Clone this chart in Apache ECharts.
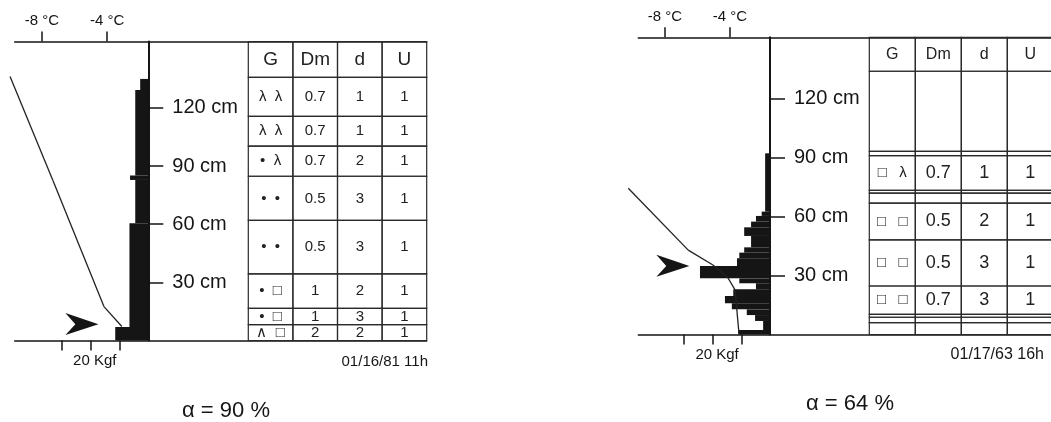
<!DOCTYPE html>
<html>
<head>
    <meta charset="utf-8">
    <title>Snow profiles</title>
    <style>
        html, body { margin: 0; padding: 0; background: #fff; }
        #chart1 { width: 1051px; height: 422px; }
    </style>
</head>
<body>
<div id="chart1"></div>
<script src="https://cdn.jsdelivr.net/npm/echarts@6.0.0/dist/echarts.min.js"></script>
<script>
    // tick values shared by both profiles
    var tempTicks = [-8, -4];
    var kgfTicks = [10, 20, 30];
    var kgfLabels = [20];
    var cmTicks = [30, 60, 90, 120];
    var tableHeader = ['G', 'Dm', 'd', 'U'];

    // left profile, 01/16/81 11h
    var leftTempC = [-9.96, -7.33, -4.2, -3.1];
    var leftTempCm = [136.1, 82.5, 17.5, 7.2];
    var leftRamBottom = [0, 6.9, 60.5, 82.8, 85.1, 129.2];
    var leftRamTop = [6.9, 60.5, 82.8, 85.1, 129.2, 134.9];
    var leftRamKgf = [11.4, 6.5, 4.5, 6.3, 4.5, 2.8];
    var leftArrow = [17.2, 8.5];
    var leftLayers = [135.7, 115.6, 100.2, 84.7, 61.9, 34.4, 16.6, 8.2, 0];
    var leftG = ['λ  λ', 'λ  λ', '•  λ', '•  •', '•  •', '•  □', '•  □', '∧  □'];
    var leftDm = ['0.7', '0.7', '0.7', '0.5', '0.5', '1', '1', '2'];
    var leftD = ['1', '1', '2', '3', '3', '2', '3', '2'];
    var leftU = ['1', '1', '1', '1', '1', '1', '1', '1'];

    // right profile, 01/17/63 16h
    var rightTempC = [-10.26, -6.57, -5.05, -4.12, -3.69, -3.45];
    var rightTempCm = [74.5, 43.0, 35.4, 28.8, 22.7, 0.8];
    var rightRamBottom = [0, 2.3, 6.9, 9.9, 12.8, 15.9, 19.6, 23.0, 26.1, 28.6, 34.9, 38.8, 41.7, 44.4, 50.2, 54.6, 57.5, 60.4, 62.6];
    var rightRamTop = [2.3, 6.9, 9.9, 12.8, 15.9, 19.6, 23.0, 26.1, 28.6, 34.9, 38.8, 41.7, 44.4, 50.2, 54.6, 57.5, 60.4, 62.6, 92.3];
    var rightRamKgf = [11.1, 2.4, 5.2, 8.1, 13.3, 15.7, 12.8, 4.9, 10.7, 24.4, 11.5, 10.7, 9.0, 6.6, 9.0, 6.6, 4.9, 2.9, 1.7];
    var rightArrow = [28.1, 35.0];
    var rightLayers = [134.1, 93.3, 91.1, 73.4, 72.0, 66.9, 48.2, 24.7, 10.3, 8.8, 6.0, 0];
    var rightG = ['', '', '□   λ', '', '', '□   □', '□   □', '□   □', '', '', ''];
    var rightDm = ['', '', '0.7', '', '', '0.5', '0.5', '0.7', '', '', ''];
    var rightD = ['', '', '1', '', '', '2', '3', '3', '', '', ''];
    var rightU = ['', '', '1', '', '', '1', '1', '1', '', '', ''];

    var font = 'Liberation Sans, Arial, sans-serif';
    var ink = '#151515';
    var arrowPath = 'path://M0,0 L100,34 L0,67 L30,34 Z';

    // consecutive temperature points -> segments [t0, cm0, t1, cm1]
    function segments(temp, cm) {
        var out = [];
        for (var i = 0; i + 1 < temp.length; i++) {
            out.push([temp[i], cm[i], temp[i + 1], cm[i + 1]]);
        }
        return out;
    }

    function ramData(bottom, top, kgf) {
        return bottom.map(function (b, i) { return [b, top[i], kgf[i]]; });
    }

    function tableCells(layers, cols, cmMax) {
        var cells = [];
        tableHeader.forEach(function (h, c) {
            cells.push({col: c, bottom: layers[0], top: cmMax, text: h, head: true});
        });
        for (var r = 0; r + 1 < layers.length; r++) {
            cols.forEach(function (col, c) {
                cells.push({col: c, bottom: layers[r + 1], top: layers[r], text: col[r], head: false});
            });
        }
        return cells;
    }

    function renderSegment(params, api) {
        var a = api.coord([api.value(0), api.value(1)]);
        var b = api.coord([api.value(2), api.value(3)]);
        return {
            type: 'line',
            shape: {x1: a[0], y1: a[1], x2: b[0], y2: b[1]},
            style: {stroke: '#222', lineWidth: 1.3}
        };
    }

    function renderRam(params, api) {
        var a = api.coord([0, api.value(1)]);
        var b = api.coord([api.value(2), api.value(0)]);
        return {
            type: 'rect',
            shape: {x: b[0], y: a[1], width: a[0] - b[0], height: b[1] - a[1]},
            style: {fill: ink}
        };
    }

    function renderTable(cells, headSize, bodySize) {
        return function (params, api) {
            var c = cells[params.dataIndex];
            var a = api.coord([api.value(0), api.value(2)]);
            var b = api.coord([api.value(0) + 1, api.value(1)]);
            var size = c.head ? headSize : (c.col === 0 ? 15 : bodySize);
            return {
                type: 'rect',
                shape: {x: a[0], y: a[1], width: b[0] - a[0], height: b[1] - a[1]},
                style: {fill: 'none', stroke: '#2a2a2a', lineWidth: 1.2},
                textContent: {
                    style: {text: c.text, fill: '#222', font: size + 'px ' + font, align: 'center', verticalAlign: 'middle'}
                },
                textConfig: {position: 'inside'}
            };
        };
    }

    function tempAxis(g, min, max) {
        return {
            gridIndex: g, type: 'value', position: 'top', min: min, max: max,
            axisLine: {onZero: false, lineStyle: {color: ink, width: 1.5}},
            axisTick: {customValues: tempTicks, length: 10, lineStyle: {color: ink, width: 1.5}},
            axisLabel: {customValues: tempTicks, formatter: '{value} °C', margin: 13, color: ink, fontSize: 15, fontFamily: font},
            splitLine: {show: false}
        };
    }

    function kgfAxis(g, min, max) {
        return {
            gridIndex: g, type: 'value', position: 'bottom', inverse: true, min: min, max: max,
            axisLine: {onZero: false, lineStyle: {color: ink, width: 1.5}},
            axisTick: {customValues: kgfTicks, length: 10, lineStyle: {color: ink, width: 1.5}},
            axisLabel: {customValues: kgfLabels, formatter: '{value} Kgf', margin: 13, padding: [0, 0, 0, 9], color: ink, fontSize: 15, fontFamily: font},
            splitLine: {show: false}
        };
    }

    // depth axis: its own grid starts at the Kgf zero, ticks and labels point right
    function cmAxis(g, max) {
        return {
            gridIndex: g, type: 'value', position: 'left', min: 0, max: max,
            axisLine: {onZero: false, lineStyle: {color: ink, width: 2}},
            axisTick: {inside: true, customValues: cmTicks, length: 15, lineStyle: {color: ink, width: 1.5}},
            axisLabel: {inside: true, customValues: cmTicks, formatter: '{value} cm', margin: 24, color: ink, fontSize: 20, fontFamily: font},
            splitLine: {show: false}
        };
    }

    function hiddenAxis(g, min, max) {
        return {gridIndex: g, type: 'value', min: min, max: max, show: false};
    }

    var leftMax = 154.2, rightMax = 151.4;
    var leftCells = tableCells(leftLayers, [leftG, leftDm, leftD, leftU], leftMax);
    var rightCells = tableCells(rightLayers, [rightG, rightDm, rightD, rightU], rightMax);

    var myChart1 = echarts.init(document.getElementById('chart1'));
    myChart1.setOption({
        animation: false,
        backgroundColor: '#fff',
        grid: [
            {left: 14.7, top: 41.5, width: 412, height: 299, outerBoundsMode: 'none'},
            {left: 248.3, top: 41.5, width: 178.4, height: 299, outerBoundsMode: 'none'},
            {left: 148.3, top: 41.5, width: 100, height: 299, outerBoundsMode: 'none'},
            {left: 638.3, top: 37.3, width: 415, height: 297.2, outerBoundsMode: 'none'},
            {left: 869.3, top: 37.3, width: 184, height: 297.2, outerBoundsMode: 'none'},
            {left: 770, top: 37.3, width: 99, height: 297.2, outerBoundsMode: 'none'}
        ],
        xAxis: [
            tempAxis(0, -9.675, 15.6),
            kgfAxis(0, -96, 46.07),
            hiddenAxis(1, 0, 4),
            hiddenAxis(2, 0, 1),
            tempAxis(3, -9.643, 15.895),
            kgfAxis(3, -98.7, 45.89),
            hiddenAxis(4, 0, 4),
            hiddenAxis(5, 0, 1)
        ],
        yAxis: [
            hiddenAxis(0, 0, leftMax),
            hiddenAxis(1, 0, leftMax),
            cmAxis(2, leftMax),
            hiddenAxis(3, 0, rightMax),
            hiddenAxis(4, 0, rightMax),
            cmAxis(5, rightMax)
        ],
        series: [
            {
                type: 'custom', xAxisIndex: 1, yAxisIndex: 0,
                data: ramData(leftRamBottom, leftRamTop, leftRamKgf),
                encode: {x: 2, y: [0, 1]},
                renderItem: renderRam
            },
            {
                type: 'custom', xAxisIndex: 0, yAxisIndex: 0, clip: false,
                data: segments(leftTempC, leftTempCm),
                encode: {x: [0, 2], y: [1, 3]},
                renderItem: renderSegment
            },
            {
                type: 'scatter', xAxisIndex: 1, yAxisIndex: 0, clip: false,
                data: [leftArrow], symbol: arrowPath, symbolSize: [33, 22], symbolOffset: [-16.5, 0],
                itemStyle: {color: ink, opacity: 1}
            },
            {
                type: 'custom', xAxisIndex: 2, yAxisIndex: 1,
                data: leftCells.map(function (c) { return [c.col, c.bottom, c.top]; }),
                encode: {x: 0, y: [1, 2]},
                renderItem: renderTable(leftCells, 19, 15)
            },
            {
                type: 'custom', xAxisIndex: 5, yAxisIndex: 3,
                data: ramData(rightRamBottom, rightRamTop, rightRamKgf),
                encode: {x: 2, y: [0, 1]},
                renderItem: renderRam
            },
            {
                type: 'custom', xAxisIndex: 4, yAxisIndex: 3, clip: false,
                data: segments(rightTempC, rightTempCm),
                encode: {x: [0, 2], y: [1, 3]},
                renderItem: renderSegment
            },
            {
                type: 'scatter', xAxisIndex: 5, yAxisIndex: 3, clip: false,
                data: [rightArrow], symbol: arrowPath, symbolSize: [33, 22], symbolOffset: [-16.5, 0],
                itemStyle: {color: ink, opacity: 1}
            },
            {
                type: 'custom', xAxisIndex: 6, yAxisIndex: 4,
                data: rightCells.map(function (c) { return [c.col, c.bottom, c.top]; }),
                encode: {x: 0, y: [1, 2]},
                renderItem: renderTable(rightCells, 16, 18)
            }
        ],
        graphic: [
            {type: 'text', x: 428, y: 362, style: {text: '01/16/81 11h', font: '15px ' + font, fill: ink, align: 'right', textAlign: 'right', verticalAlign: 'middle', textVerticalAlign: 'middle'}},
            {type: 'text', x: 1044, y: 355, style: {text: '01/17/63 16h', font: '16px ' + font, fill: ink, align: 'right', textAlign: 'right', verticalAlign: 'middle', textVerticalAlign: 'middle'}},
            {type: 'text', x: 226, y: 411, style: {text: 'α = 90 %', font: '22px ' + font, fill: ink, align: 'center', textAlign: 'center', verticalAlign: 'middle', textVerticalAlign: 'middle'}},
            {type: 'text', x: 850, y: 404, style: {text: 'α = 64 %', font: '22px ' + font, fill: ink, align: 'center', textAlign: 'center', verticalAlign: 'middle', textVerticalAlign: 'middle'}}
        ]
    });
</script>
</body>
</html>
